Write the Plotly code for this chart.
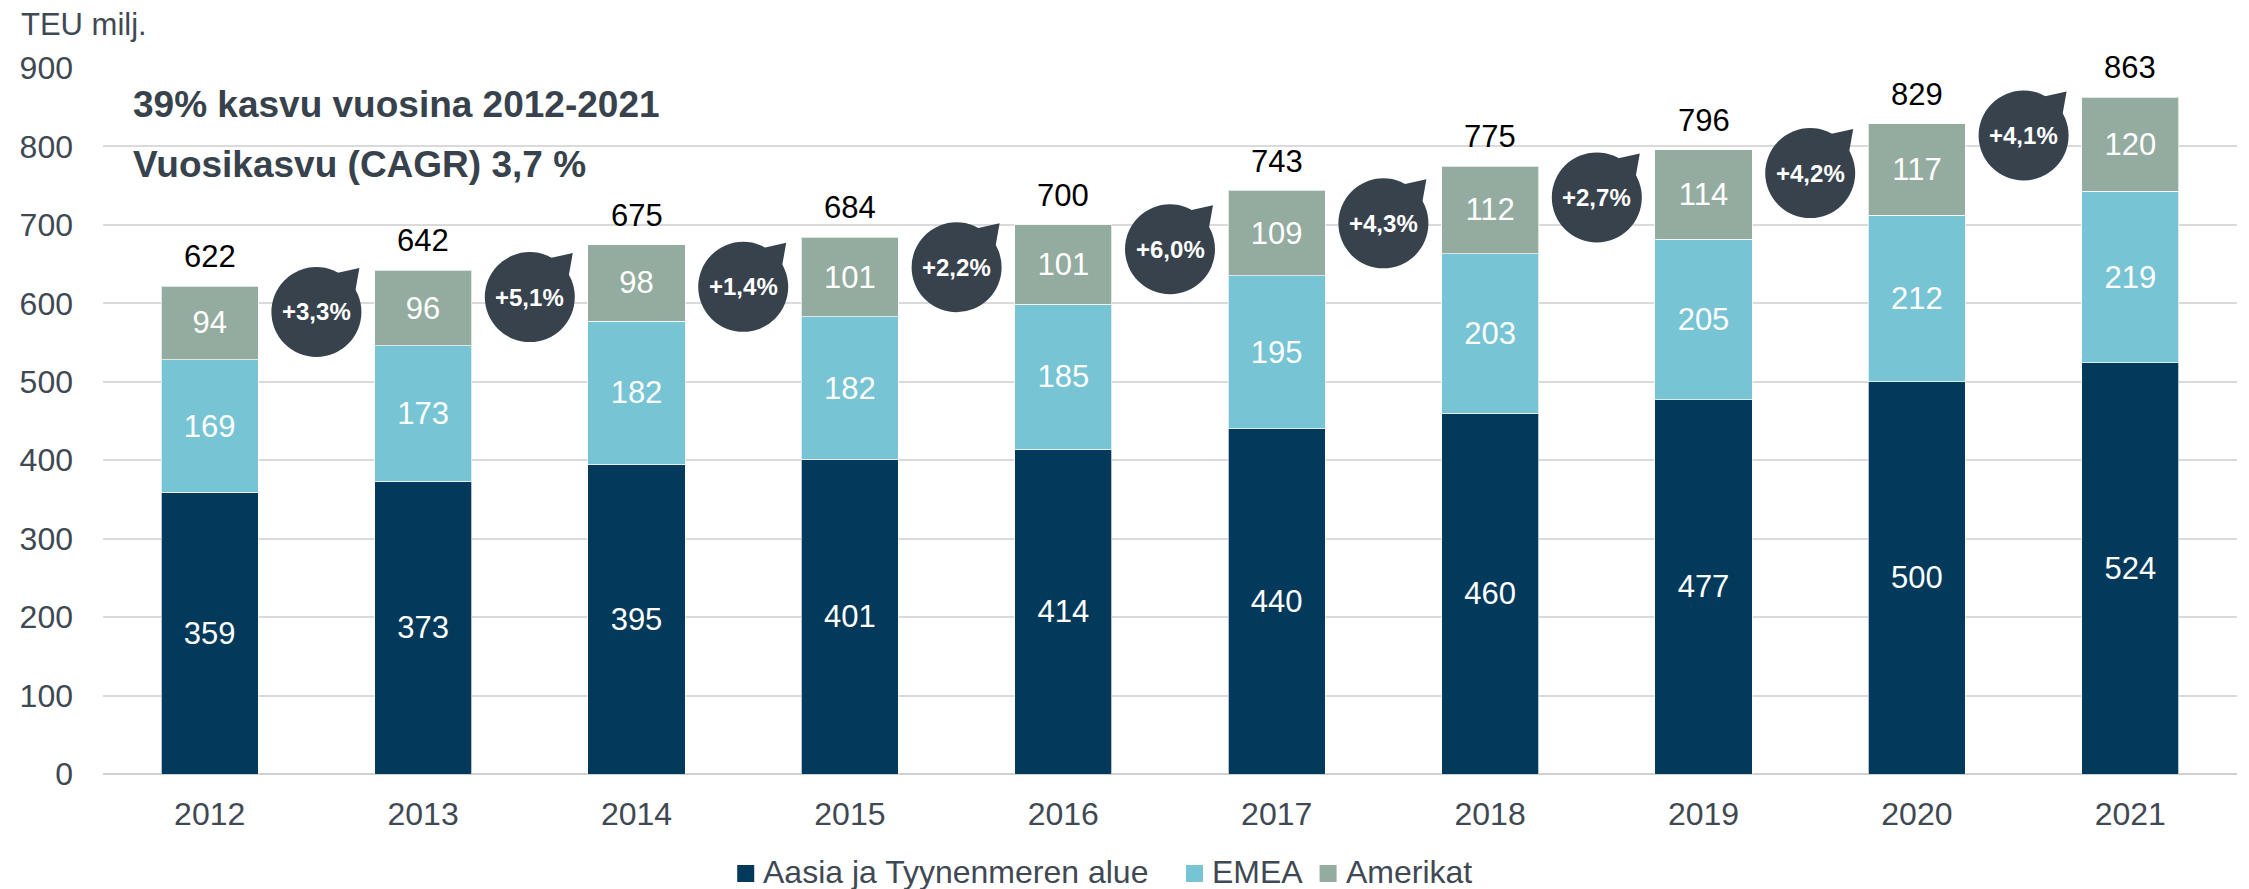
import plotly.graph_objects as go

vuodet = [2012, 2013, 2014, 2015, 2016, 2017, 2018, 2019, 2020, 2021]
aasia = [359, 373, 395, 401, 414, 440, 460, 477, 500, 524]
emea = [169, 173, 182, 182, 185, 195, 203, 205, 212, 219]
amerikat = [94, 96, 98, 101, 101, 109, 112, 114, 117, 120]
yhteensa = [622, 642, 675, 684, 700, 743, 775, 796, 829, 863]
kasvu = ['+3,3%', '+5,1%', '+1,4%', '+2,2%', '+6,0%', '+4,3%', '+2,7%', '+4,2%', '+4,1%']

# kuplien pystysijainti (asteikon yksiköissä)
kupla_y = [589, 608, 621, 646, 669, 702, 735, 766, 814]

fontti = 'Liberation Sans, Arial, sans-serif'
harmaa = '#3F4953'
kupla_vari = '#37424C'

sarjat = [('Aasia ja Tyynenmeren alue', aasia, '#033A5B'),
          ('EMEA', emea, '#77C4D5'),
          ('Amerikat', amerikat, '#93AC9F')]

fig = go.Figure()
for nimi, arvot, vari in sarjat:
    fig.add_bar(x=vuodet, y=arvot, name=nimi,
                marker=dict(color=vari, line=dict(color='rgba(255,255,255,0.7)', width=1)),
                text=arvot, textposition='inside', insidetextanchor='middle',
                textangle=0, textfont=dict(color='white', size=31, family=fontti))

for v, t in zip(vuodet, yhteensa):
    fig.add_annotation(x=v, y=t, text=str(t), showarrow=False, yanchor='bottom',
                       yshift=10, font=dict(size=31, color='black', family=fontti))

for i, (k, ky) in enumerate(zip(kasvu, kupla_y)):
    xa = vuodet[i] + 0.5
    fig.add_shape(type='circle', xref='x', yref='y', xsizemode='pixel', ysizemode='pixel',
                  xanchor=xa, yanchor=ky, x0=-45, x1=45, y0=-45, y1=45,
                  fillcolor=kupla_vari, line=dict(width=0))
    fig.add_shape(type='path', xref='x', yref='y', xsizemode='pixel', ysizemode='pixel',
                  xanchor=xa, yanchor=ky, path='M 16 38 L 43 44 L 38 16 Z',
                  fillcolor=kupla_vari, line=dict(width=0))
    fig.add_annotation(x=xa, y=ky, text='<b>' + k + '</b>', showarrow=False,
                       font=dict(size=24, color='white', family=fontti))

# selite käsin, ettei se siirrä piirtoaluetta
selite_x = [0.2972, 0.5075, 0.5701]
for (nimi, _, vari), sx in zip(sarjat, selite_x):
    fig.add_shape(type='rect', xref='paper', yref='paper', xsizemode='pixel', ysizemode='pixel',
                  xanchor=sx, yanchor=-0.1388, x0=0, x1=17, y0=-10, y1=7,
                  fillcolor=vari, line=dict(width=0))
    fig.add_annotation(xref='paper', yref='paper', x=sx + 24 / 2140, y=-0.1388,
                       xanchor='left', yanchor='middle', text=nimi, showarrow=False,
                       font=dict(size=32, color=harmaa, family=fontti))

fig.add_annotation(xref='paper', yref='paper', x=0.0131, y=0.948, xanchor='left', yanchor='middle',
                   text='<b>39% kasvu vuosina 2012-2021</b>', showarrow=False,
                   font=dict(size=37, color='#37424C', family=fontti))
fig.add_annotation(xref='paper', yref='paper', x=0.0131, y=0.863, xanchor='left', yanchor='middle',
                   text='<b>Vuosikasvu (CAGR) 3,7 %</b>', showarrow=False,
                   font=dict(size=37, color='#37424C', family=fontti))
fig.add_annotation(xref='paper', yref='paper', x=-0.0395, y=1.062, xanchor='left', yanchor='middle',
                   text='TEU milj.', showarrow=False,
                   font=dict(size=31, color=harmaa, family=fontti))

fig.update_layout(
    width=2249, height=889,
    barmode='stack', bargap=0.545,
    paper_bgcolor='white', plot_bgcolor='white',
    margin=dict(l=89, r=20, t=60, b=123),
    font=dict(family=fontti, color=harmaa),
    showlegend=False,
    xaxis=dict(tickvals=vuodet, ticktext=[str(v) for v in vuodet], range=[2011.5, 2021.5],
               showgrid=False, showline=False, zeroline=False,
               tickfont=dict(size=32, color=harmaa), ticks='', ticklabelstandoff=18),
    yaxis=dict(range=[0, 900], dtick=100, showgrid=True, gridcolor='#DADADA', gridwidth=1.5,
               zeroline=True, zerolinecolor='#D0D0D0', zerolinewidth=1.5,
               tickfont=dict(size=32, color=harmaa), ticks='', ticklabelstandoff=29),
)

fig.write_html('out.html')
